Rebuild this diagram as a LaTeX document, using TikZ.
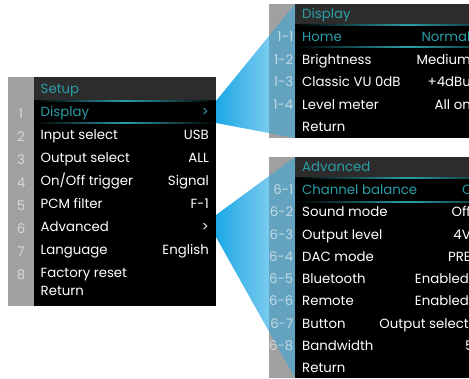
\documentclass[tikz,border=0pt]{standalone}
\usepackage{fontspec}
\setmainfont{Poppins}
\definecolor{menuteal}{HTML}{2A9EA8}
\definecolor{headgray}{HTML}{2C2C2C}
\definecolor{stripgray}{HTML}{A0A0A0}
\definecolor{beamblue}{HTML}{1CA8E6}
\definecolor{beamlight}{HTML}{A8DBF2}
\newcommand\menufont{\fontsize{13.3}{15}\selectfont}
\tikzset{
  item/.style={anchor=mid west,inner sep=0pt,yshift=-1.8pt,text=white,font=\menufont},
  value/.style={anchor=mid east,inner sep=0pt,yshift=-1.8pt,text=white,font=\menufont},
  picked/.style={text=menuteal},
  num/.style={inner sep=0pt,yshift=-1.8pt,text=white,text opacity=.6,font=\menufont},
  glow/.style={left color=black,right color=black,middle color=menuteal}
}
\begin{document}
\begin{tikzpicture}[x=1pt,y=-1pt]
\useasboundingbox (0,0) rectangle (469,378);
\clip (0,0) rectangle (469,378);
% setup panel
\fill[stripgray](8,77) rectangle (34,306);
\fill[black](34,77) rectangle (216,306);
\fill[headgray](34,77) rectangle (216,101);
\shade[glow](34,100.3) rectangle (216,101.7);
\shade[glow](34,122.3) rectangle (216,123.7);
\node[item,picked] (setup) at (40.5,89) {Setup};
\node[num] (n1) at (21,112) {1};
\node[item,picked] (s1) at (40.5,112) {Display};
\node[value,picked] (v1) at (209,112) {>};
\foreach \lab/\val [count=\i from 2] in {Input select/USB,Output select/ALL,
  {On/Off trigger}/Signal,PCM filter/F-1,Advanced/>,Language/English,Factory reset/}{
  \node[num] (n\i) at (21,112+23*\i-23) {\i};
  \node[item] (s\i) at (40.5,112+23*\i-23) {\lab};
  \node[value] (v\i) at (209,112+23*\i-23) {\val};
}
\node[item] (sret) at (40.5,291) {Return};
% display panel
\fill[stripgray](269,4) rectangle (295,138);
\fill[black](295,4) rectangle (469,138);
\fill[headgray](295,4) rectangle (469,25);
\shade[glow](295,24.3) rectangle (520,25.7);
\shade[glow](295,46.3) rectangle (520,47.7);
% advanced panel
\fill[stripgray](269,157) rectangle (295,378);
\fill[black](295,157) rectangle (469,378);
\fill[headgray](295,157) rectangle (469,178);
\shade[glow](295,177.3) rectangle (520,178.7);
\shade[glow](295,201) rectangle (520,202.4);
% beams
\coordinate (b1a) at (216,101); \coordinate (b1b) at (295,4);
\coordinate (b1c) at (295,138); \coordinate (b1d) at (216,123);
\coordinate (b2a) at (216,215); \coordinate (b2b) at (295,157);
\coordinate (b2c) at (295,378); \coordinate (b2d) at (216,237);
\begin{scope}
\clip (216,0) rectangle (269,378);
\shade[left color=beamblue,right color=beamlight](b1a)--(b1b)--(b1c)--(b1d)--cycle;
\shade[left color=beamblue,right color=beamlight](b2a)--(b2b)--(b2c)--(b2d)--cycle;
\end{scope}
\begin{scope}
\clip (269,0) rectangle (295,378);
\fill[beamblue,fill opacity=.45](b1a)--(b1b)--(b1c)--(b1d)--cycle;
\fill[beamblue,fill opacity=.45](b2a)--(b2b)--(b2c)--(b2d)--cycle;
\end{scope}
% display menu
\node[item,picked] (disp) at (302,14) {Display};
\node[num,anchor=mid east] (d1) at (293.5,37) {1-1};
\node[item,picked] (di1) at (302,37) {Home};
\node[value,picked] (dv1) at (470.5,37) {Normal};
\foreach \lab/\val [count=\i from 2] in {Brightness/Medium,Classic VU 0dB/+4dBu,Level meter/All on}{
  \node[num,anchor=mid east] (d\i) at (293.5,37+22.5*\i-22.5) {1-\i};
  \node[item] (di\i) at (302,37+22.5*\i-22.5) {\lab};
  \node[value] (dv\i) at (471,37+22.5*\i-22.5) {\val};
}
\node[item] (dret) at (302,127) {Return};
% advanced menu
\node[item,picked] (adv) at (302,167) {Advanced};
\node[num,anchor=mid east] (a1) at (293.5,190) {6-1};
\node[item,picked] (ai1) at (302,190) {Channel balance};
\node[item,picked] (av1) at (462,190) {C};
\foreach \lab/\val [count=\i from 2] in {Sound mode/Off,Output level/4V,DAC mode/PRE}{
  \node[num,anchor=mid east] (a\i) at (293.5,190+22.25*\i-22.25) {6-\i};
  \node[item] (ai\i) at (302,190+22.25*\i-22.25) {\lab};
  \node[value] (av\i) at (471,190+22.25*\i-22.25) {\val};
}
\foreach \lab/\val [count=\i from 5] in {Bluetooth/Enabled,Remote/Enabled,Button/Output select}{
  \node[num,anchor=mid east] (a\i) at (293.5,190+22.25*\i-22.25) {6-\i};
  \node[item] (ai\i) at (302,190+22.25*\i-22.25) {\lab};
  \node[value] (av\i) at (469,190+22.25*\i-22.25) {\val};
}
\node[num,anchor=mid east] (a8) at (293.5,345.75) {6-8};
\node[item] (ai8) at (302,345.75) {Bandwidth};
\node[item] (av8) at (465,345.75) {5};
\node[item] (aret) at (302,368) {Return};
\end{tikzpicture}
\end{document}
